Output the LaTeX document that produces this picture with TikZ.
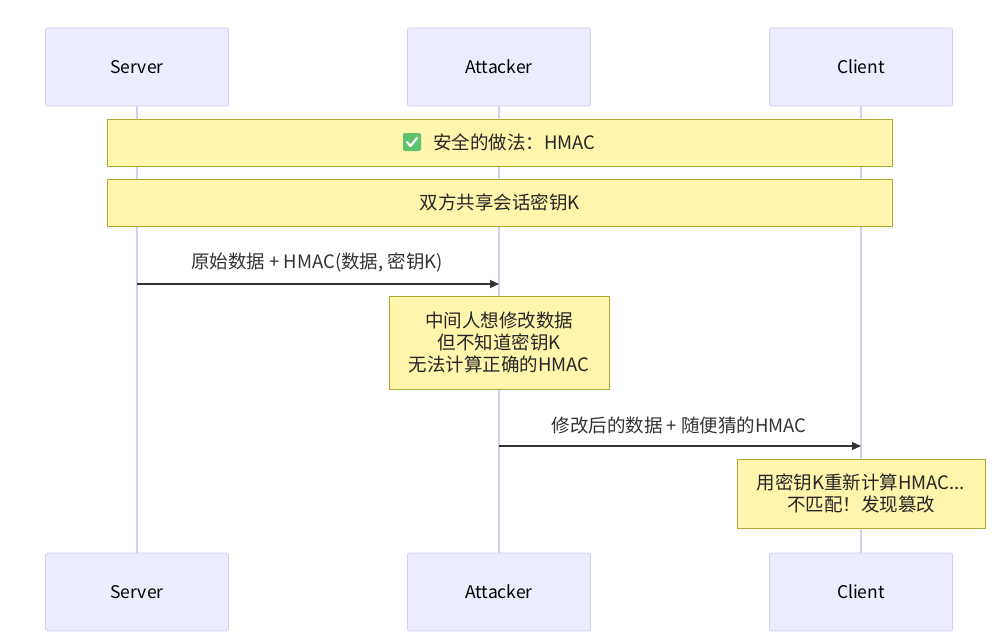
\documentclass[tikz,border=0pt]{standalone}
\usepackage{fontspec}
\setmainfont{Noto Sans CJK SC}
\usetikzlibrary{arrows.meta,calc}
\definecolor{actorfill}{HTML}{ECECFF}
\definecolor{actorline}{HTML}{D4CCF2}
\definecolor{notefill}{HTML}{FFF5AD}
\definecolor{noteline}{HTML}{AAAA33}
\definecolor{msgline}{HTML}{333333}
\tikzset{every picture/.style={line width=0.75pt}}
\tikzset{
  actor/.style={draw=actorline, fill=actorfill, rounded corners=2pt, minimum width=183pt, minimum height=78pt, font=\fontsize{17.5}{20}\selectfont},
  note/.style={draw=noteline, fill=notefill, align=center, font=\fontsize{18.5}{22}\selectfont, text=black!85},
  lifeline/.style={draw=actorline, line width=1.5pt},
  msg/.style={draw=msgline, line width=1.2pt, -{Triangle[length=9pt,width=8pt]}},
  msglabel/.style={font=\fontsize{18.5}{20}\selectfont, text=black!80},
}
\begin{document}
\begin{tikzpicture}[x=1pt,y=-1pt]
        \useasboundingbox (0,0) rectangle (996,642);
        % lifelines
        \coordinate (srvtop) at (137,106); \coordinate (srvbot) at (137,553);
        \coordinate (atktop) at (499,106); \coordinate (atkbot) at (499,553);
        \coordinate (clitop) at (861,106); \coordinate (clibot) at (861,553);
        \draw [lifeline] (srvtop) -- (srvbot);
        \draw [lifeline] (atktop) -- (atkbot);
        \draw [lifeline] (clitop) -- (clibot);
        % actors
        \node [actor] (server) at (137,67) {Server};
        \node [actor] (attacker) at (499,67) {Attacker};
        \node [actor] (client) at (861,67) {Client};
        \node [actor] (server2) at (137,592) {Server};
        \node [actor] (attacker2) at (499,592) {Attacker};
        \node [actor] (client2) at (861,592) {Client};
        % notes
        \node [note, minimum width=785pt, minimum height=47pt] (safe) at (499.5,142.5) {\hspace{30pt}安全的做法：HMAC};
        \node [fill={rgb,255:red,94;green,196;blue,108}, rounded corners=2pt, minimum size=18pt, inner sep=0pt] (check) at (412,142) {};
        \draw [white, line width=2.2pt, line cap=round, line join=round] ($(check)+(-5,0)$) -- ($(check)+(-1.5,4)$) -- ($(check)+(5,-4)$);
        \node [note, minimum width=785pt, minimum height=47pt] (shared) at (499.5,202.5) {双方共享会话密钥K};
        \node [note, minimum width=220pt, minimum height=93pt] (mitm) at (499,342.5) {中间人想修改数据\\但不知道密钥K\\无法计算正确的HMAC};
        \node [note, minimum width=248pt, minimum height=69pt] (verify) at (861,493.5) {用密钥K重新计算HMAC...\\不匹配！发现篡改};
        % messages
        \coordinate (m1a) at (137,284); \coordinate (m1b) at (499,284);
        \draw [msg] (m1a) -- (m1b);
        \node [msglabel] (m1label) at (317,262) {原始数据 + HMAC(数据, 密钥K)};
        \coordinate (m2a) at (499,446); \coordinate (m2b) at (861,446);
        \draw [msg] (m2a) -- (m2b);
        \node [msglabel] (m2label) at (679,425) {修改后的数据 + 随便猜的HMAC};
\end{tikzpicture}
\end{document}
